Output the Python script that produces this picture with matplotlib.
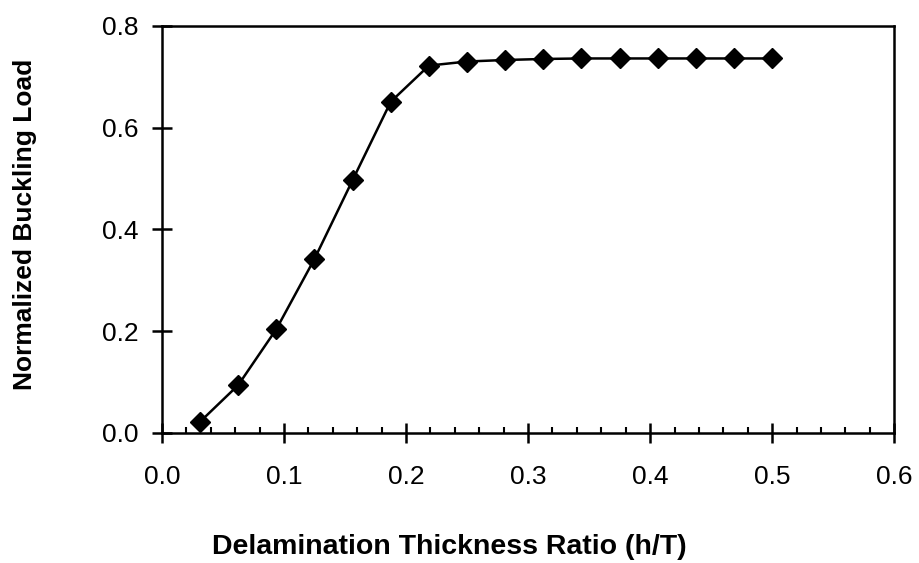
import matplotlib
matplotlib.use("Agg")
import matplotlib.pyplot as plt
from matplotlib.ticker import MultipleLocator

plt.rcParams['font.family'] = ['Liberation Sans', 'DejaVu Sans']

thickness_ratio = [0.03125, 0.0625, 0.09375, 0.125, 0.15625, 0.1875, 0.21875, 0.25,
                   0.28125, 0.3125, 0.34375, 0.375, 0.40625, 0.4375, 0.46875, 0.5]
buckling_load = [0.022, 0.094, 0.204, 0.342, 0.497, 0.651, 0.722, 0.730,
                 0.733, 0.735, 0.736, 0.736, 0.736, 0.736, 0.736, 0.736]
x_ticks = [0.0, 0.1, 0.2, 0.3, 0.4, 0.5, 0.6]
y_ticks = [0.0, 0.2, 0.4, 0.6, 0.8]

fig = plt.figure(figsize=(9.2, 5.63), dpi=100)
ax = fig.add_axes([0.176, 0.231, 0.796, 0.723])
ax.plot(thickness_ratio, buckling_load, color='black', lw=1.8, marker='D',
        markersize=10.5, markerfacecolor='black', markeredgecolor='black')
ax.set_xlim(0, 0.6)
ax.set_ylim(0, 0.8)
ax.set_xticks(x_ticks)
ax.set_yticks(y_ticks)
ax.set_xticklabels([f"{v:.1f}" for v in x_ticks])
ax.set_yticklabels([f"{v:.1f}" for v in y_ticks])
ax.xaxis.set_minor_locator(MultipleLocator(0.02))
ax.tick_params(which='major', direction='inout', length=14, width=1.8,
               labelsize=19, colors='black')
ax.tick_params(axis='y', which='major', pad=10)
ax.tick_params(axis='x', which='major', pad=16)
ax.tick_params(which='minor', direction='in', length=4, width=1.5)
for s in ax.spines.values():
    s.set_linewidth(1.8)
ax.set_xlabel('Delamination Thickness Ratio (h/T)', fontsize=20.5, fontweight='bold')
ax.xaxis.set_label_coords(0.393, -0.248)
ax.set_ylabel('Normalized Buckling Load', fontsize=19, fontweight='bold')
ax.yaxis.set_label_coords(-0.171, 0.512)
fig.savefig('out.png', dpi=100)
